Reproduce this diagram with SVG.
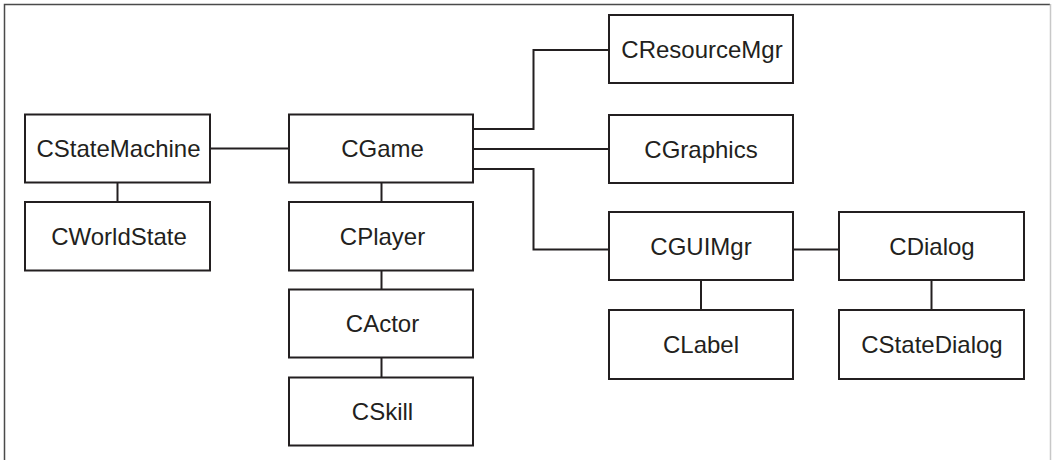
<svg xmlns="http://www.w3.org/2000/svg" width="1052" height="460" viewBox="0 0 1052 460">
<style>
.box{fill:#fff;stroke:#231f20;stroke-width:2}
.lbl{font-family:"Liberation Sans",Arial,sans-serif;font-size:24px;fill:#231f20;text-anchor:middle}
.con{fill:none;stroke:#231f20;stroke-width:2}
</style>
<rect width="1052" height="460" fill="#fff"/>
<path d="M4.5 470V4.5H1050" fill="none" stroke="#4a4a4a" stroke-width="1.5"/>
<path d="M1050.5 4V470" fill="none" stroke="#c8c8c8" stroke-width="1.5"/>
<g id="connectors">
<path class="con" d="M210 148.5H289"/>
<path class="con" d="M117.5 182.5V202"/>
<path class="con" d="M381.5 182.5V202"/>
<path class="con" d="M381.5 270.5V289.5"/>
<path class="con" d="M381.5 357.5V377.5"/>
<path class="con" d="M473 129H533.5V50H609"/>
<path class="con" d="M473 149H609"/>
<path class="con" d="M473 169H533.5V249.5H609"/>
<path class="con" d="M793 249.5H839"/>
<path class="con" d="M701 280V310"/>
<path class="con" d="M931.5 280V310"/>
</g>
<g id="CStateMachine"><rect class="box" x="25" y="114.5" width="185" height="68"/><text class="lbl" x="118.5" y="157">CStateMachine</text></g>
<g id="CWorldState"><rect class="box" x="25" y="202" width="185" height="68.5"/><text class="lbl" x="119" y="244.5">CWorldState</text></g>
<g id="CGame"><rect class="box" x="289" y="114.5" width="184" height="68"/><text class="lbl" x="382.5" y="157">CGame</text></g>
<g id="CPlayer"><rect class="box" x="289" y="202" width="184" height="68.5"/><text class="lbl" x="382.5" y="244.5">CPlayer</text></g>
<g id="CActor"><rect class="box" x="289" y="289.5" width="184" height="68"/><text class="lbl" x="382.5" y="332">CActor</text></g>
<g id="CSkill"><rect class="box" x="289" y="377.5" width="184" height="68"/><text class="lbl" x="382.5" y="420">CSkill</text></g>
<g id="CResourceMgr"><rect class="box" x="609" y="15" width="184" height="68"/><text class="lbl" x="702" y="57.5">CResourceMgr</text></g>
<g id="CGraphics"><rect class="box" x="609" y="115" width="184" height="68"/><text class="lbl" x="701" y="157.5">CGraphics</text></g>
<g id="CGUIMgr"><rect class="box" x="609" y="212" width="184" height="68"/><text class="lbl" x="701" y="254.5">CGUIMgr</text></g>
<g id="CLabel"><rect class="box" x="609" y="310" width="184" height="69"/><text class="lbl" x="701" y="352.5">CLabel</text></g>
<g id="CDialog"><rect class="box" x="839" y="212" width="185" height="68"/><text class="lbl" x="932" y="254.5">CDialog</text></g>
<g id="CStateDialog"><rect class="box" x="839" y="310" width="185" height="69"/><text class="lbl" x="932" y="352.5">CStateDialog</text></g>
</svg>
